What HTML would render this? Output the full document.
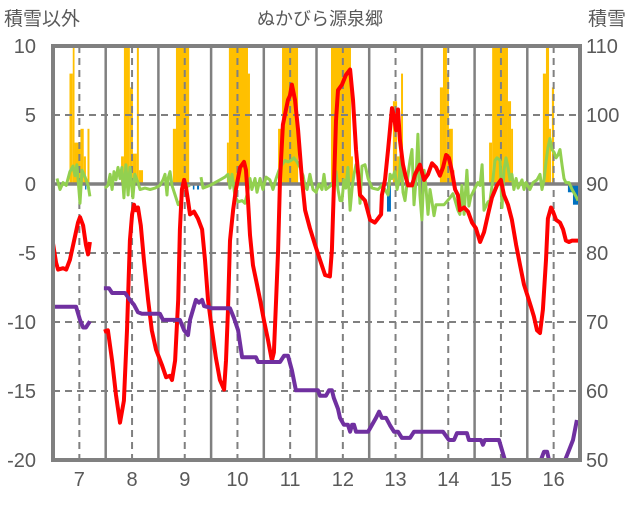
<!DOCTYPE html>
<html><head><meta charset="utf-8"><style>
html,body{margin:0;padding:0;background:#fff;}
svg text{font-family:"Liberation Sans","Noto Sans CJK JP",sans-serif;fill:#595959;}
</style></head><body>
<svg id="chart" width="636" height="501" xmlns="http://www.w3.org/2000/svg">
<defs><clipPath id="pc"><rect x="53" y="46" width="527" height="414"/></clipPath></defs>
<text x="320" y="25" font-size="18" text-anchor="middle">ぬかびら源泉郷</text>
<text x="4" y="25" font-size="19">積雪以外</text>
<text x="588" y="25" font-size="19">積雪</text>
<g id="grid"></g>
<g id="bars" clip-path="url(#pc)"></g>
<g id="grid2"></g>
<g id="lines" clip-path="url(#pc)"></g>
<g id="axes"></g>
</svg>
<script>
const dayLabels=[7,8,9,10,11,12,13,14,15,16];
const leftTicks=[10,5,0,-5,-10,-15,-20];
const rightTicks=[110,100,90,80,70,60,50];
// bars: [startHour,endHour,value]
const orangeBars=[[31.5,33,8],[33,33.8,11],[33.8,36.5,3],[36.5,38,4],[38,39,2],[39.7,40.6,4],
[55,56.3,2],[56.3,59,11],[59,60.4,7],[60.4,62.2,2.2],[62.2,63.1,11],[63.1,65,1],
[78.6,80,4],[80,86,11],
[103.2,104.1,3],[104.1,112.8,11],[112.8,113.7,8],
[126.5,128.3,4],[128.3,135.6,11],
[150.6,159.7,11],[159.7,160.6,2],
[178.8,180.7,6],[180.7,182.5,2],[182.5,183.4,8],
[200.2,201.6,7],[201.6,203.4,11],[203.4,204.3,8],[204.3,206.1,4],[206.1,206.8,1],
[222.6,224,3],[224,231.2,11],[231.2,232.6,6],[232.6,233.5,4],
[247.1,248.5,8],[248.5,249.9,11],[249.9,250.8,4],[251.2,252.2,7]];
const blueBars=[[38.6,39.2,-0.4],[87.7,88.4,-0.4],[89.6,90.5,-0.4],[176.1,177.9,-2],[184.8,185.5,-0.3],[258.5,260.8,-0.6],[260.8,263.5,-1.5]];
const redSeries=[[24,-4.3],[25.4,-5.7],[26.3,-6.2],[28.6,-6.1],[30,-6.2],[31.7,-5.5],[33.6,-4.1],[35.4,-2.8],[36.3,-2.4],[37.7,-3.0],[39,-4.4],[40,-5.1],[40.8,-4.2],[44,null],
[47.2,-10.7],[49,-10.6],[50.9,-12.8],[52.7,-15.3],[54.5,-17.3],[56.3,-15.7],[57.7,-10.6],[59,-4.1],[60,-2.2],[60.9,-1.5],[61.8,-1.9],[62.7,-1.7],[64,-3.0],[65.4,-5.5],[67.3,-8.4],[69,-10.6],[70.9,-12.0],[73.6,-13.1],[75.5,-14.0],[77.3,-13.9],[78.2,-14.2],[79.6,-12.8],[81,-8.4],[81.8,-3.3],[82.7,-0.4],[83.7,0.3],[84.6,-0.3],[85.5,-1.2],[86.4,-2.2],[88.2,-2.0],[90,-2.5],[91.9,-3.3],[93.2,-5.5],[94.6,-8.4],[96.4,-10.6],[98.2,-12.6],[100,-14.2],[101.9,-14.9],[102.8,-12.8],[103.7,-9.1],[104.6,-4.1],[106,-1.9],[107.3,-0.4],[109.2,1.2],[111,1.6],[111.9,1.0],[112.8,-1.2],[113.7,-3.7],[115.1,-5.9],[116.9,-7.3],[118.3,-8.4],[120.1,-9.9],[121.9,-11.3],[123.7,-12.8],[124.6,-12.2],[125.6,-8.4],[126.5,-4.8],[127.4,0.3],[128.7,4.3],[130.1,5.4],[131,6.1],[131.9,6.4],[132.8,7.2],[134.2,6.1],[135.6,3.9],[137.4,0.3],[138.8,-1.9],[141,-3.2],[143.3,-4.4],[145.6,-5.5],[147.9,-6.6],[150.1,-6.7],[151,-4.8],[152,0.3],[152.9,4.6],[153.8,6.8],[155.6,7.2],[157.4,7.9],[159.3,8.3],[160.6,6.1],[162,2.5],[163.8,-0.8],[166.1,-1.2],[168.4,-2.6],[170.6,-2.8],[172,-2.5],[173.4,-2.2],[173.8,-0.8],[175.2,0.3],[176.6,2.5],[178.4,5.5],[179.3,4.9],[180.2,3.9],[181.1,5.4],[182,3.2],[183.4,1.4],[184.8,0.4],[185.7,-0.1],[187.5,-0.1],[188.9,0.7],[191.1,1.4],[193,0.3],[194.8,0.7],[196.6,1.5],[198.4,1.2],[200.2,0.6],[201.6,1.2],[203,2.1],[204.3,1.9],[205.7,0.9],[207.1,-0.4],[208.4,-0.8],[209.3,-1.9],[211.2,-1.7],[213,-2.0],[214.8,-2.8],[216.6,-3.2],[218.5,-4.2],[220.3,-3.5],[222.1,-2.2],[223.9,-1.0],[226.2,-0.1],[228,0.3],[229.4,-0.8],[231.2,-1.5],[233,-2.6],[234.9,-4.4],[236.7,-5.9],[238.5,-7.3],[239.9,-8.0],[241.7,-8.9],[243,-9.6],[244.4,-10.6],[245.8,-10.8],[247.1,-9.1],[248.5,-5.5],[249.4,-2.5],[250.8,-1.7],[251.7,-2.0],[253.1,-2.6],[254.9,-2.8],[256.3,-3.3],[257.6,-4.1],[259,-4.2],[260.4,-4.1],[262.2,-4.1],[263.1,-4.1]];
const greenSeries=[[25.8,0.4],[27.2,-0.4],[28.6,0.1],[30,-0.1],[31.7,0.9],[33.1,1.3],[34,0.6],[34.9,1.4],[36.3,-1.4],[37.2,1],[38.6,0.5],[40,-0.1],[40.8,-0.9],[44,null],
[47.7,-0.3],[49,-0.1],[50,0.7],[50.9,-0.4],[51.8,0.9],[52.7,0.3],[53.6,1.2],[54.5,0.4],[55.4,1.2],[56.3,-1],[57.2,1.4],[58.2,-0.8],[59,1.2],[60.4,-1],[61.3,0.7],[62.7,0.1],[63.6,-0.4],[65.9,-0.3],[68.2,-0.4],[70.5,-0.3],[72.7,-0.1],[74.1,0.3],[75,0.7],[75.9,-0.8],[76.4,0.4],[77.3,0.9],[78.2,-0.1],[79.6,-0.8],[81,-1.5],[82.3,-1.2],[83.2,-0.1],[84.6,-0.2],[86.4,-0.1],[88,null],
[91.4,0.5],[92.3,-0.3],[95.5,-0.1],[97.8,0.1],[100,0.3],[102.3,0.5],[103.7,0.7],[104.6,-0.3],[105.5,0.7],[106.9,-0.9],[108.3,-1.3],[110.1,-1.2],[111.4,-1.4],[112.8,-0.5],[113.7,0.4],[114.6,-0.4],[116,0.4],[116.9,-0.6],[118.3,0.4],[119.6,-0.4],[121,0.5],[122.8,0.3],[124.2,-0.4],[125.6,0.4],[126.9,1],[128.3,1.4],[129.7,1.7],[131,1.6],[132.4,1.7],[133.7,1.9],[135.1,1.6],[136.5,1.2],[137.9,0.6],[138.8,-0.2],[139.7,-0.4],[141,0.7],[142.4,-0.4],[143.8,-0.6],[145.1,0],[146.5,-0.4],[147.4,0.7],[148.3,-0.4],[150.6,-0.1],[152,0.1],[152.9,0.9],[153.8,-0.4],[154.7,-1.2],[155.6,-1.2],[156.5,0.3],[157.4,-0.3],[158.3,1.2],[159.3,-1.9],[160.2,-0.3],[161.1,0.7],[162,1.4],[162.9,1.2],[163.8,-1.4],[164.7,1.3],[166.1,1.4],[167.5,0.4],[169.3,-0.3],[172,-0.4],[173.8,-0.1],[175.2,-0.4],[176.6,-0.8],[177.5,0.7],[178.4,0.4],[179.7,0.9],[180.7,-0.4],[181.6,0.3],[182.5,2.1],[183.4,-0.6],[184.3,-1.2],[185.7,0.7],[186.6,1.7],[187.5,2.5],[188.4,-1.5],[189.3,0.3],[190.2,3.6],[191.1,-0.8],[192,-2.6],[193,1],[193.9,-0.4],[194.8,-2.2],[195.7,-0.4],[196.6,-1.3],[197.5,-2.3],[198.4,-1.5],[202.1,-1.5],[204.8,-1],[206.1,-0.7],[207.1,-1.2],[208.4,-1.9],[209.3,-2.2],[210.2,-0.1],[211.2,-2.2],[212.5,1],[213.4,-1.6],[214.3,-0.9],[216.2,-0.3],[217.5,0.1],[218.5,-0.1],[219.4,1.4],[220.3,-1.9],[222.1,-1.3],[223,-1.2],[224.4,0.4],[225.3,1.7],[226.2,1.9],[227.6,1.7],[228.5,-1.7],[229.4,1],[230.3,1.9],[231.2,1.2],[232.1,0.3],[233,0.7],[233.9,-0.4],[234.9,0.4],[235.8,-0.3],[237.6,0.3],[238.5,-0.4],[239.4,0.1],[241.2,-0.4],[242.6,0.1],[244.4,0.3],[245.8,0.7],[246.7,-0.4],[247.6,0.3],[248.5,1.6],[249.4,2.6],[250.3,3.3],[251.2,2.5],[252.2,2.3],[253.1,1.9],[254,2.1],[254.9,2.5],[255.8,1.4],[256.7,0.4],[257.6,0.1],[259,0.1],[260.4,-0.4],[262.2,-0.9],[263.1,-1.2]];
const purpleSeries=[[24,72.2],[34.5,72.2],[36.3,70.3],[37.7,69.2],[39,69.2],[40.8,70.1],[44,null],
[47.2,74.9],[49.5,74.9],[50.9,74.2],[56.8,74.2],[59,73.2],[60.9,72.5],[62.7,71.4],[64.5,71.2],[72.7,71.2],[74.1,70.3],[81.8,70.3],[83.7,68.8],[85.5,68.1],[86.4,70.3],[89.1,73.2],[90.5,72.8],[91.9,73.2],[92.8,72.3],[96.4,72],[104.6,72],[106.4,70.6],[108.3,68.8],[110.1,64.9],[116.4,64.9],[117.4,64.2],[127.4,64.2],[129.2,65.1],[131,65.1],[132.8,63],[134.6,60.1],[144.7,60.1],[145.6,59.3],[148.3,59.3],[149.7,60.1],[151,60.1],[151.9,59],[153.8,57.4],[154.7,56.1],[156.5,55.1],[158.3,55.1],[159.3,54.1],[160.2,55.1],[161.1,55.1],[162,54.1],[167.5,54.1],[169.3,55.1],[171.1,56.1],[172.5,57],[173.8,56.1],[175.7,56.1],[177.5,55],[179.3,54.1],[181.1,54.1],[182.9,53.2],[186.6,53.2],[188.4,54.1],[193,54.1],[201.6,54.1],[204.3,52.9],[206.6,52.9],[208,53.9],[212.5,53.9],[213.4,52.9],[218.9,52.9],[219.8,52.2],[220.7,52.9],[227.1,52.9],[229.8,50],[246.2,50],[247.6,51.2],[249,51.2],[249.9,50],[257.2,50],[259,51.4],[260.8,52.9],[262.6,55.8]];

const X0=53,X1=580,Y0=46,Y1=460,H0=24,H1=264;
const xs=h=>X0+(h-H0)*(X1-X0)/(H1-H0);
const yL=v=>Y1-(v+20)*(Y1-Y0)/30;
const yR=v=>Y1-(v-50)*(Y1-Y0)/60;
const NS='http://www.w3.org/2000/svg';
function mk(tag,parent,attrs){const e=document.createElementNS(NS,tag);for(const k in attrs)e.setAttribute(k,attrs[k]);parent.appendChild(e);return e;}
const grid=document.getElementById('grid'),grid2=document.getElementById('grid2'),bars=document.getElementById('bars'),lines=document.getElementById('lines'),axes=document.getElementById('axes');

// horizontal gridlines
leftTicks.forEach(t=>{
  if(t===10||t===-20||t===0)return;
  const l=mk('line',grid2,{x1:X0,x2:X1,y1:yL(t),y2:yL(t),stroke:'#808080','stroke-width':2,'stroke-dasharray':'7,5'});
  
  
});
// vertical gridlines: solid at midnight, dashed at noon
for(let d=1;d<10;d++){
  const l=mk('line',grid2,{x1:xs(H0+24*d),x2:xs(H0+24*d),y1:Y0,y2:Y1,stroke:'#808080','stroke-width':2.5});
  
  
}
dayLabels.forEach((d,i)=>{
  const h=H0+12+24*i;
  const l=mk('line',grid2,{x1:xs(h),x2:xs(h),y1:Y0,y2:Y1,stroke:'#808080','stroke-width':2,'stroke-dasharray':'7,5'});
  
  
  const t=mk('text',axes,{x:xs(h),y:486,'font-size':20,'text-anchor':'middle'});
  t.textContent=d;
  
  
});
// bars
orangeBars.forEach(b=>{
  const y=yL(b[2]);
  const r=mk('rect',bars,{x:xs(b[0]),y:y,width:xs(b[1])-xs(b[0]),height:yL(0)-y,fill:'#ffc000'});
  
  
});
blueBars.forEach(b=>{
  const y=yL(b[2]);
  const r=mk('rect',bars,{x:xs(b[0]),y:yL(0),width:xs(b[1])-xs(b[0]),height:y-yL(0),fill:'#0070c0'});
  
  
});
// zero line
const z=mk('line',grid2,{x1:X0,x2:X1,y1:yL(0),y2:yL(0),stroke:'#808080','stroke-width':3.5});



function pathOf(series,ys){let d='',pen=false;series.forEach(p=>{if(p[1]===null){pen=false;return;}d+=(pen?'L':'M')+xs(p[0]).toFixed(1)+','+ys(p[1]).toFixed(1);pen=true;});return d;}
const g=mk('path',lines,{d:pathOf(greenSeries,yL),fill:'none',stroke:'#92d050','stroke-width':3,'stroke-linejoin':'round'});


const r=mk('path',lines,{d:pathOf(redSeries,yL),fill:'none',stroke:'#ff0000','stroke-width':4,'stroke-linejoin':'round'});


const p=mk('path',lines,{d:pathOf(purpleSeries,yR),fill:'none',stroke:'#7030a0','stroke-width':4,'stroke-linejoin':'round'});



// border
const bd=mk('rect',axes,{x:X0,y:Y0,width:X1-X0,height:Y1-Y0,fill:'none',stroke:'#808080','stroke-width':4});


leftTicks.forEach(t=>{
  const e=mk('text',axes,{x:36,y:yL(t)+7,'font-size':20,'text-anchor':'end'});
  e.textContent=t;
  
  
});
rightTicks.forEach(t=>{
  const e=mk('text',axes,{x:586,y:yR(t)+7,'font-size':20,'text-anchor':'start'});
  e.textContent=t;
  
  
});
</script>
</body></html>
